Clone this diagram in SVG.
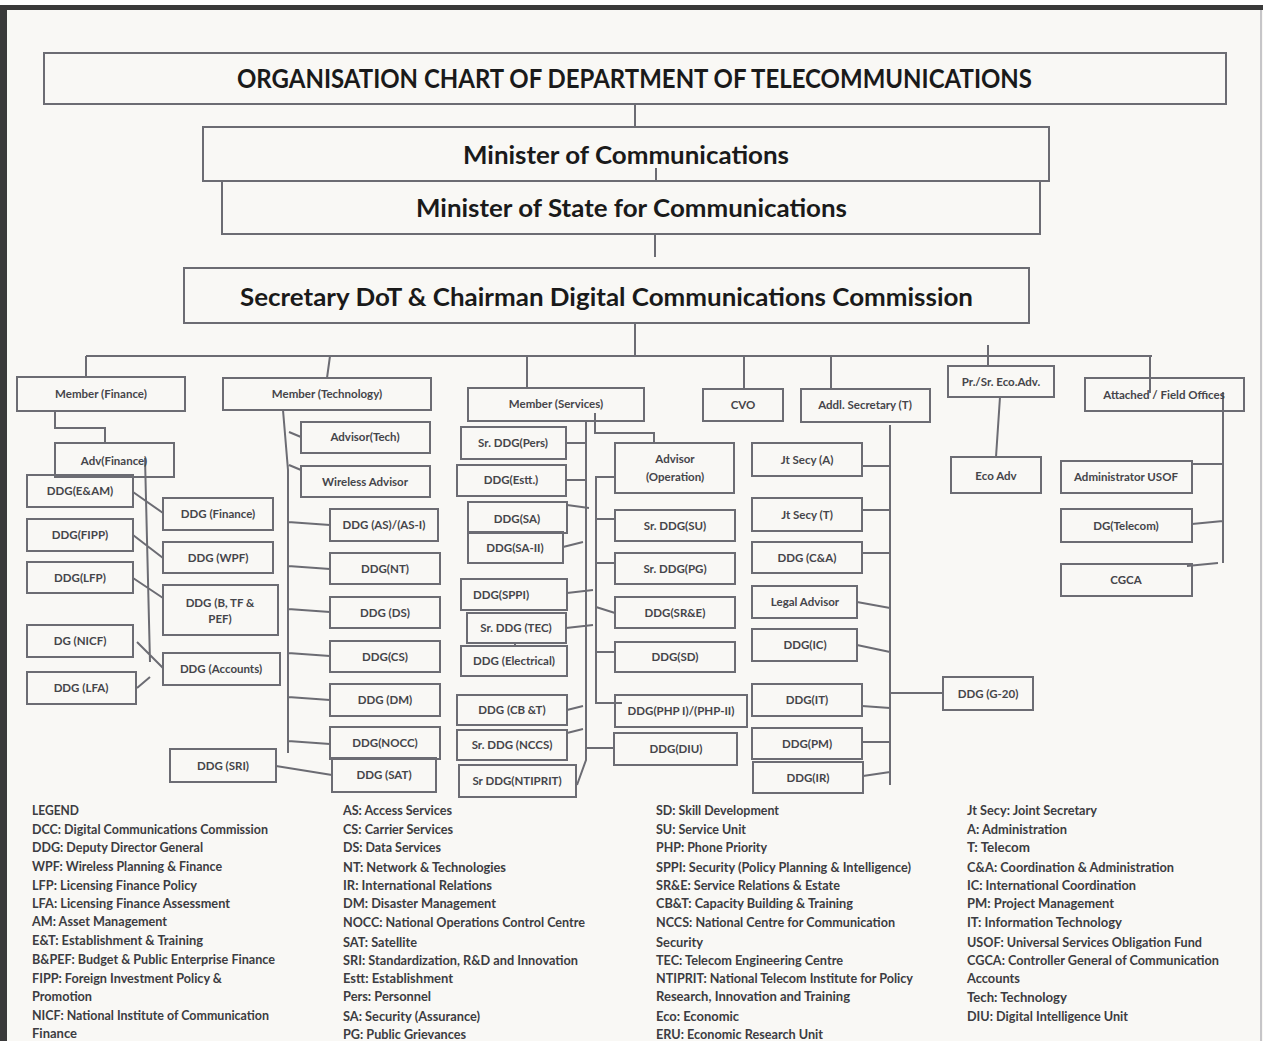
<svg xmlns="http://www.w3.org/2000/svg" width="1263" height="1041" viewBox="0 0 1263 1041">
<style>
.b{fill:none;stroke:#6c6c73;stroke-width:2}
.c{fill:none;stroke:#6c6c73;stroke-width:2}
.t{font-family:Lato,'Liberation Sans',sans-serif;font-size:11.5px;fill:#45454a;font-weight:700;text-anchor:middle}
.h{font-family:Lato,'Liberation Sans',sans-serif;font-weight:700;fill:#1a1a1a}
.lg{font-family:Lato,'Liberation Sans',sans-serif;font-size:13px;fill:#3c3c41;font-weight:700}
</style>
<rect x="0" y="0" width="1263" height="1041" fill="#f9f8f5"/>
<rect x="0" y="0" width="1263" height="5" fill="#ffffff"/>
<rect x="0" y="5" width="1263" height="5" fill="#3a3a3a"/>
<rect x="0" y="5" width="7" height="1036" fill="#3a3a3a"/>
<line x1="1261" y1="10" x2="1261" y2="1041" stroke="#b4b4b8" stroke-width="1.5"/>

<g id="connectors">
<path class="c" d="M635 104V127M656 168V181M655 234V257M635 323V356M86 356H1152M86 356V377M330 356L327 378M527 356V388M744 356V389M831 356V389M988 345V366M1150 356V393"/>
<path class="c" d="M55 411V428H105V443M145 458L150 662M133 492L163 513M133 535L163 558M133 578L163 598M137 642L163 668M137 688L150 677"/>
<path class="c" d="M283 410L288 470V753M289 432L301 437M289 465L301 470M288 522L330 525M288 566L330 569M288 609L330 612M288 653L330 656M288 697L330 700M288 741L330 744M276 766L332 775"/>
<path class="c" d="M586 421V760L577 785M595 413V433H654V443M615 477H596V703H622M596 519H615M596 563H615M596 607L615 613M596 652H615M566 443H586M566 480H586M567 505L589 508M563 547L583 542M567 593L593 590M566 628L593 625M515 643V646M567 710L583 706M567 733L583 729M586 748H614"/>
<path class="c" d="M890 425V785M862 466H890M862 510H890M862 553H890M857 602L890 608M857 645L890 652M862 706L890 708M862 742H890M863 776L890 772M890 693H943"/>
<path class="c" d="M1000 397L996 457M1223 392V563M1192 464H1223M1192 524L1223 521M1187 566L1218 563"/>
</g>

<g id="title"><rect class="b" x="44" y="53" width="1182" height="51"/><text class="h" x="237" y="88" font-size="27" textLength="795" lengthAdjust="spacingAndGlyphs">ORGANISATION CHART OF DEPARTMENT OF TELECOMMUNICATIONS</text></g>
<g id="minister"><rect class="b" x="203" y="127" width="846" height="54"/><text class="h" x="463" y="164" font-size="25" textLength="326" lengthAdjust="spacingAndGlyphs">Minister of Communications</text></g>
<g id="mos"><rect class="b" x="222" y="181" width="818" height="53"/><text class="h" x="416" y="217" font-size="25" textLength="431" lengthAdjust="spacingAndGlyphs">Minister of State for Communications</text></g>
<g id="secretary"><rect class="b" x="184" y="268" width="845" height="55"/><text class="h" x="240" y="306" font-size="25" textLength="733" lengthAdjust="spacingAndGlyphs">Secretary DoT &amp; Chairman Digital Communications Commission</text></g>

<g id="member-finance"><rect class="b" x="17" y="377" width="168" height="34"/><text class="t" x="101" y="398">Member (Finance)</text></g>
<g id="adv-finance"><rect class="b" x="55" y="443" width="119" height="34"/><text class="t" x="114" y="465" font-size="13">Adv(Finance)</text></g>
<g id="ddg-eam"><rect class="b" x="27" y="475" width="106" height="32"/><text class="t" x="80" y="495">DDG(E&amp;AM)</text></g>
<g id="ddg-fipp"><rect class="b" x="27" y="519" width="106" height="32"/><text class="t" x="80" y="539">DDG(FIPP)</text></g>
<g id="ddg-lfp"><rect class="b" x="27" y="562" width="106" height="31"/><text class="t" x="80" y="582">DDG(LFP)</text></g>
<g id="dg-nicf"><rect class="b" x="27" y="625" width="106" height="32"/><text class="t" x="80" y="645">DG (NICF)</text></g>
<g id="ddg-lfa"><rect class="b" x="27" y="672" width="109" height="32"/><text class="t" x="81" y="692">DDG (LFA)</text></g>
<g id="ddg-finance"><rect class="b" x="163" y="498" width="110" height="32"/><text class="t" x="218" y="518">DDG (Finance)</text></g>
<g id="ddg-wpf"><rect class="b" x="163" y="542" width="110" height="31"/><text class="t" x="218" y="562">DDG (WPF)</text></g>
<g id="ddg-btf-pef"><rect class="b" x="163" y="585" width="115" height="50"/><text class="t" x="220" y="607">DDG (B, TF &amp;</text><text class="t" x="220" y="623">PEF)</text></g>
<g id="ddg-accounts"><rect class="b" x="163" y="653" width="117" height="32"/><text class="t" x="221" y="673">DDG (Accounts)</text></g>

<g id="member-technology"><rect class="b" x="223" y="378" width="208" height="32"/><text class="t" x="327" y="398">Member (Technology)</text></g>
<g id="advisor-tech"><rect class="b" x="301" y="422" width="129" height="31"/><text class="t" x="365" y="441">Advisor(Tech)</text></g>
<g id="wireless-advisor"><rect class="b" x="301" y="466" width="129" height="31"/><text class="t" x="365" y="486">Wireless Advisor</text></g>
<g id="ddg-as"><rect class="b" x="330" y="509" width="108" height="32"/><text class="t" x="384" y="529">DDG (AS)/(AS-I)</text></g>
<g id="ddg-nt"><rect class="b" x="330" y="553" width="110" height="31"/><text class="t" x="385" y="573">DDG(NT)</text></g>
<g id="ddg-ds"><rect class="b" x="330" y="597" width="110" height="31"/><text class="t" x="385" y="617">DDG (DS)</text></g>
<g id="ddg-cs"><rect class="b" x="330" y="641" width="110" height="31"/><text class="t" x="385" y="661">DDG(CS)</text></g>
<g id="ddg-dm"><rect class="b" x="330" y="684" width="110" height="32"/><text class="t" x="385" y="704">DDG (DM)</text></g>
<g id="ddg-nocc"><rect class="b" x="330" y="727" width="110" height="32"/><text class="t" x="385" y="747">DDG(NOCC)</text></g>
<g id="ddg-sat"><rect class="b" x="332" y="758" width="104" height="34"/><text class="t" x="384" y="779">DDG (SAT)</text></g>
<g id="ddg-sri"><rect class="b" x="170" y="749" width="106" height="33"/><text class="t" x="223" y="770">DDG (SRI)</text></g>

<g id="member-services"><rect class="b" x="468" y="388" width="176" height="33"/><text class="t" x="556" y="408">Member (Services)</text></g>
<g id="sr-ddg-pers"><rect class="b" x="461" y="427" width="105" height="32"/><text class="t" x="513" y="447">Sr. DDG(Pers)</text></g>
<g id="ddg-estt"><rect class="b" x="457" y="465" width="109" height="31"/><text class="t" x="511" y="484">DDG(Estt.)</text></g>
<g id="ddg-sa"><rect class="b" x="468" y="502" width="99" height="31"/><text class="t" x="517" y="523" font-size="13">DDG(SA)</text></g>
<g id="ddg-sa-ii"><rect class="b" x="468" y="532" width="95" height="31"/><text class="t" x="515" y="552" font-size="13">DDG(SA-II)</text></g>
<g id="ddg-sppi"><rect class="b" x="461" y="579" width="106" height="31"/><text class="t" x="501" y="599">DDG(SPPI)</text></g>
<g id="sr-ddg-tec"><rect class="b" x="467" y="613" width="99" height="30"/><text class="t" x="516" y="632" font-size="10">Sr. DDG (TEC)</text></g>
<g id="ddg-electrical"><rect class="b" x="461" y="646" width="106" height="30"/><text class="t" x="514" y="665" font-size="10">DDG (Electrical)</text></g>
<g id="ddg-cbt"><rect class="b" x="457" y="695" width="110" height="30"/><text class="t" x="512" y="714">DDG (CB &amp;T)</text></g>
<g id="sr-ddg-nccs"><rect class="b" x="457" y="730" width="110" height="30"/><text class="t" x="512" y="749">Sr. DDG (NCCS)</text></g>
<g id="sr-ddg-ntiprit"><rect class="b" x="459" y="765" width="117" height="32"/><text class="t" x="517" y="785">Sr DDG(NTIPRIT)</text></g>
<g id="advisor-operation"><rect class="b" x="615" y="443" width="119" height="50"/><text class="t" x="675" y="463">Advisor</text><text class="t" x="675" y="481">(Operation)</text></g>
<g id="sr-ddg-su"><rect class="b" x="615" y="510" width="120" height="31"/><text class="t" x="675" y="530">Sr. DDG(SU)</text></g>
<g id="sr-ddg-pg"><rect class="b" x="615" y="553" width="120" height="31"/><text class="t" x="675" y="573">Sr. DDG(PG)</text></g>
<g id="ddg-sre"><rect class="b" x="615" y="597" width="120" height="31"/><text class="t" x="675" y="617">DDG(SR&amp;E)</text></g>
<g id="ddg-sd"><rect class="b" x="615" y="642" width="120" height="30"/><text class="t" x="675" y="661">DDG(SD)</text></g>
<g id="ddg-php"><rect class="b" x="615" y="695" width="132" height="32"/><text class="t" x="681" y="715">DDG(PHP I)/(PHP-II)</text></g>
<g id="ddg-diu"><rect class="b" x="614" y="733" width="123" height="32"/><text class="t" x="676" y="753">DDG(DIU)</text></g>

<g id="cvo"><rect class="b" x="703" y="389" width="80" height="32"/><text class="t" x="743" y="409">CVO</text></g>

<g id="addl-secretary"><rect class="b" x="801" y="389" width="129" height="33"/><text class="t" x="865" y="409">Addl. Secretary (T)</text></g>
<g id="jt-secy-a"><rect class="b" x="752" y="443" width="110" height="33"/><text class="t" x="807" y="464">Jt Secy (A)</text></g>
<g id="jt-secy-t"><rect class="b" x="752" y="498" width="110" height="33"/><text class="t" x="807" y="519">Jt Secy (T)</text></g>
<g id="ddg-ca"><rect class="b" x="752" y="542" width="110" height="31"/><text class="t" x="807" y="562">DDG (C&amp;A)</text></g>
<g id="legal-advisor"><rect class="b" x="752" y="586" width="105" height="32"/><text class="t" x="805" y="606">Legal Advisor</text></g>
<g id="ddg-ic"><rect class="b" x="752" y="629" width="105" height="32"/><text class="t" x="805" y="649">DDG(IC)</text></g>
<g id="ddg-it"><rect class="b" x="752" y="684" width="110" height="32"/><text class="t" x="807" y="704">DDG(IT)</text></g>
<g id="ddg-pm"><rect class="b" x="752" y="728" width="110" height="31"/><text class="t" x="807" y="748">DDG(PM)</text></g>
<g id="ddg-ir"><rect class="b" x="753" y="762" width="110" height="31"/><text class="t" x="808" y="782">DDG(IR)</text></g>
<g id="ddg-g20"><rect class="b" x="943" y="677" width="90" height="33"/><text class="t" x="988" y="698">DDG (G-20)</text></g>

<g id="pr-sr-eco-adv"><rect class="b" x="948" y="366" width="106" height="31"/><text class="t" x="1001" y="386" font-size="10.5">Pr./Sr. Eco.Adv.</text></g>
<g id="eco-adv"><rect class="b" x="951" y="457" width="90" height="36"/><text class="t" x="996" y="480" font-size="13">Eco Adv</text></g>

<g id="attached-field-offices"><rect class="b" x="1085" y="378" width="159" height="33"/><text class="t" x="1164" y="399">Attached / Field Offices</text></g>
<g id="administrator-usof"><rect class="b" x="1061" y="461" width="131" height="32"/><text class="t" x="1126" y="481">Administrator USOF</text></g>
<g id="dg-telecom"><rect class="b" x="1061" y="509" width="131" height="33"/><text class="t" x="1126" y="530">DG(Telecom)</text></g>
<g id="cgca"><rect class="b" x="1061" y="564" width="131" height="32"/><text class="t" x="1126" y="584">CGCA</text></g>

<g id="legend">
<text class="lg" x="32" y="815" textLength="47" lengthAdjust="spacingAndGlyphs">LEGEND</text>
<text class="lg" x="32" y="834" textLength="236" lengthAdjust="spacingAndGlyphs">DCC: Digital Communications Commission</text>
<text class="lg" x="32" y="852" textLength="171" lengthAdjust="spacingAndGlyphs">DDG: Deputy Director General</text>
<text class="lg" x="32" y="871" textLength="190" lengthAdjust="spacingAndGlyphs">WPF: Wireless Planning &amp; Finance</text>
<text class="lg" x="32" y="890" textLength="165" lengthAdjust="spacingAndGlyphs">LFP:  Licensing Finance Policy</text>
<text class="lg" x="32" y="908" textLength="198" lengthAdjust="spacingAndGlyphs">LFA:  Licensing Finance Assessment</text>
<text class="lg" x="32" y="926" textLength="135" lengthAdjust="spacingAndGlyphs">AM: Asset Management</text>
<text class="lg" x="32" y="945" textLength="171" lengthAdjust="spacingAndGlyphs">E&amp;T: Establishment &amp; Training</text>
<text class="lg" x="32" y="964" textLength="243" lengthAdjust="spacingAndGlyphs">B&amp;PEF: Budget &amp; Public Enterprise Finance</text>
<text class="lg" x="32" y="983" textLength="190" lengthAdjust="spacingAndGlyphs">FIPP: Foreign Investment Policy &amp;</text>
<text class="lg" x="32" y="1001" textLength="60" lengthAdjust="spacingAndGlyphs">Promotion</text>
<text class="lg" x="32" y="1020" textLength="237" lengthAdjust="spacingAndGlyphs">NICF: National Institute of Communication</text>
<text class="lg" x="32" y="1038" textLength="45" lengthAdjust="spacingAndGlyphs">Finance</text>

<text class="lg" x="343" y="815" textLength="109" lengthAdjust="spacingAndGlyphs">AS: Access Services</text>
<text class="lg" x="343" y="834" textLength="110" lengthAdjust="spacingAndGlyphs">CS: Carrier Services</text>
<text class="lg" x="343" y="852" textLength="98" lengthAdjust="spacingAndGlyphs">DS: Data Services</text>
<text class="lg" x="343" y="872" textLength="163" lengthAdjust="spacingAndGlyphs">NT: Network &amp; Technologies</text>
<text class="lg" x="343" y="890" textLength="149" lengthAdjust="spacingAndGlyphs">IR: International  Relations</text>
<text class="lg" x="343" y="908" textLength="153" lengthAdjust="spacingAndGlyphs">DM: Disaster Management</text>
<text class="lg" x="343" y="927" textLength="242" lengthAdjust="spacingAndGlyphs">NOCC: National Operations Control Centre</text>
<text class="lg" x="343" y="947" textLength="74" lengthAdjust="spacingAndGlyphs">SAT: Satellite</text>
<text class="lg" x="343" y="965" textLength="235" lengthAdjust="spacingAndGlyphs">SRI: Standardization, R&amp;D and Innovation</text>
<text class="lg" x="343" y="983" textLength="110" lengthAdjust="spacingAndGlyphs">Estt: Establishment</text>
<text class="lg" x="343" y="1001" textLength="88" lengthAdjust="spacingAndGlyphs">Pers: Personnel</text>
<text class="lg" x="343" y="1021" textLength="137" lengthAdjust="spacingAndGlyphs">SA: Security (Assurance)</text>
<text class="lg" x="343" y="1039" textLength="123" lengthAdjust="spacingAndGlyphs">PG: Public Grievances</text>

<text class="lg" x="656" y="815" textLength="123" lengthAdjust="spacingAndGlyphs">SD: Skill Development</text>
<text class="lg" x="656" y="834" textLength="90" lengthAdjust="spacingAndGlyphs">SU: Service Unit</text>
<text class="lg" x="656" y="852" textLength="111" lengthAdjust="spacingAndGlyphs">PHP: Phone Priority</text>
<text class="lg" x="656" y="872" textLength="255" lengthAdjust="spacingAndGlyphs">SPPI: Security (Policy Planning &amp; Intelligence)</text>
<text class="lg" x="656" y="890" textLength="184" lengthAdjust="spacingAndGlyphs">SR&amp;E: Service Relations &amp; Estate</text>
<text class="lg" x="656" y="908" textLength="197" lengthAdjust="spacingAndGlyphs">CB&amp;T: Capacity Building &amp; Training</text>
<text class="lg" x="656" y="927" textLength="239" lengthAdjust="spacingAndGlyphs">NCCS: National Centre for Communication</text>
<text class="lg" x="656" y="947" textLength="47" lengthAdjust="spacingAndGlyphs">Security</text>
<text class="lg" x="656" y="965" textLength="187" lengthAdjust="spacingAndGlyphs">TEC: Telecom Engineering Centre</text>
<text class="lg" x="656" y="983" textLength="257" lengthAdjust="spacingAndGlyphs">NTIPRIT: National Telecom Institute for Policy</text>
<text class="lg" x="656" y="1001" textLength="194" lengthAdjust="spacingAndGlyphs">Research, Innovation and Training</text>
<text class="lg" x="656" y="1021" textLength="83" lengthAdjust="spacingAndGlyphs">Eco: Economic</text>
<text class="lg" x="656" y="1039" textLength="167" lengthAdjust="spacingAndGlyphs">ERU: Economic Research Unit</text>

<text class="lg" x="967" y="815" textLength="130" lengthAdjust="spacingAndGlyphs">Jt Secy: Joint Secretary</text>
<text class="lg" x="967" y="834" textLength="100" lengthAdjust="spacingAndGlyphs">A: Administration</text>
<text class="lg" x="967" y="852" textLength="63" lengthAdjust="spacingAndGlyphs">T: Telecom</text>
<text class="lg" x="967" y="872" textLength="207" lengthAdjust="spacingAndGlyphs">C&amp;A: Coordination &amp; Administration</text>
<text class="lg" x="967" y="890" textLength="169" lengthAdjust="spacingAndGlyphs">IC: International Coordination</text>
<text class="lg" x="967" y="908" textLength="147" lengthAdjust="spacingAndGlyphs">PM: Project Management</text>
<text class="lg" x="967" y="927" textLength="155" lengthAdjust="spacingAndGlyphs">IT: Information Technology</text>
<text class="lg" x="967" y="947" textLength="235" lengthAdjust="spacingAndGlyphs">USOF: Universal Services Obligation Fund</text>
<text class="lg" x="967" y="965" textLength="252" lengthAdjust="spacingAndGlyphs">CGCA: Controller General of Communication</text>
<text class="lg" x="967" y="983" textLength="53" lengthAdjust="spacingAndGlyphs">Accounts</text>
<text class="lg" x="967" y="1002" textLength="100" lengthAdjust="spacingAndGlyphs">Tech: Technology</text>
<text class="lg" x="967" y="1021" textLength="161" lengthAdjust="spacingAndGlyphs">DIU: Digital Intelligence Unit</text>
</g>
</svg>
